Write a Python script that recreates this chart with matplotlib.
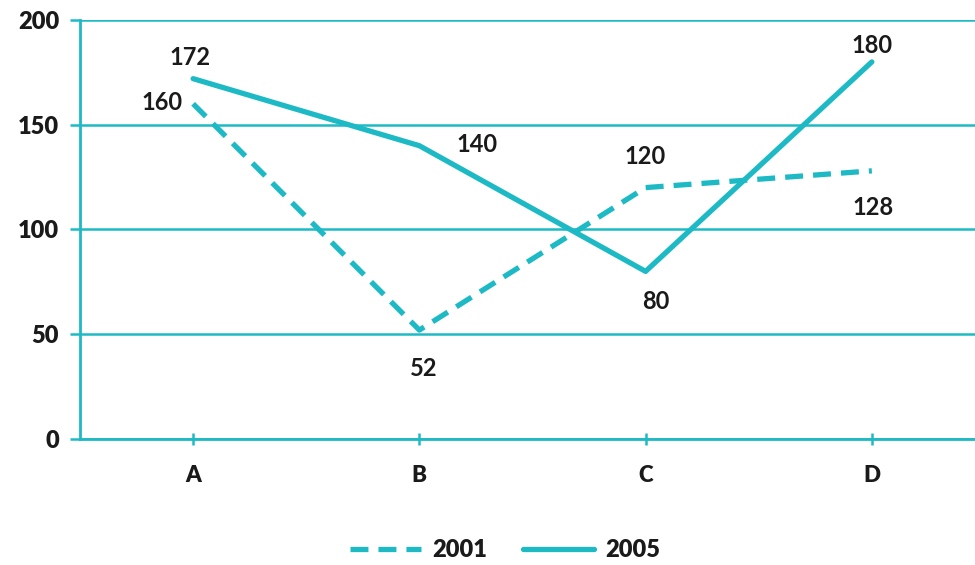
import matplotlib
matplotlib.use("Agg")
import matplotlib.pyplot as plt

categories = ["A", "B", "C", "D"]
series_2001 = [160, 52, 120, 128]
series_2005 = [172, 140, 80, 180]
yticks = [0, 50, 100, 150, 200]

color = "#1DBAC6"
text_color = "#1a1a1a"
plt.rcParams['font.family'] = ['Lato', 'DejaVu Sans']

fig = plt.figure(figsize=(9.75, 5.65), dpi=100)
ax = fig.add_axes([80/975, 1-439/565, 1-80/975, (439-20)/565])

x = list(range(len(categories)))
l1, = ax.plot(x, series_2001, color=color, lw=3.8, ls=(0, (3.4, 1.9)), label="2001",
              dash_capstyle='butt')
l2, = ax.plot(x, series_2005, color=color, lw=3.8, label="2005", solid_capstyle='round')

ax.set_xlim(-0.5, 3.456)
ax.set_ylim(0, 200)
ax.set_yticks(yticks)
ax.set_yticklabels([str(v) for v in yticks], fontsize=17, fontweight='heavy', color=text_color)
ax.set_xticks(x)
ax.set_xticklabels(categories, fontsize=16, fontweight='heavy', color=text_color)

for s in ["top", "right"]:
    ax.spines[s].set_visible(False)
for s in ["left", "bottom"]:
    ax.spines[s].set_color(color)
    ax.spines[s].set_linewidth(2)
ax.grid(axis='y', color=color, lw=1.8)
ax.set_axisbelow(True)
ax.tick_params(axis='y', length=7, width=1.8, color=color, pad=8)
ax.tick_params(axis='x', length=9, width=1.8, color=color, direction='inout', pad=14)

offs_2001 = [(-31, 1), (4, -38), (0, 31), (1, -37)]
offs_2005 = [(-3, 21), (58, 1), (10, -30), (0, 16)]
for xi, v, o in zip(x, series_2001, offs_2001):
    ax.annotate(str(v), (xi, v), xytext=o, textcoords='offset pixels', ha='center', va='center',
                fontsize=17, fontweight='bold', color=text_color)
for xi, v, o in zip(x, series_2005, offs_2005):
    ax.annotate(str(v), (xi, v), xytext=o, textcoords='offset pixels', ha='center', va='center',
                fontsize=17, fontweight='bold', color=text_color)

leg = fig.legend(handles=[l1, l2], loc='center', bbox_to_anchor=(0.518, 1-550/565), ncol=2,
                 frameon=False, handlelength=3.0, columnspacing=1.5, handletextpad=0.5,
                 prop={'size': 17, 'weight': 'heavy'})
for t in leg.get_texts():
    t.set_color(text_color)

fig.savefig("out.png", dpi=100)
